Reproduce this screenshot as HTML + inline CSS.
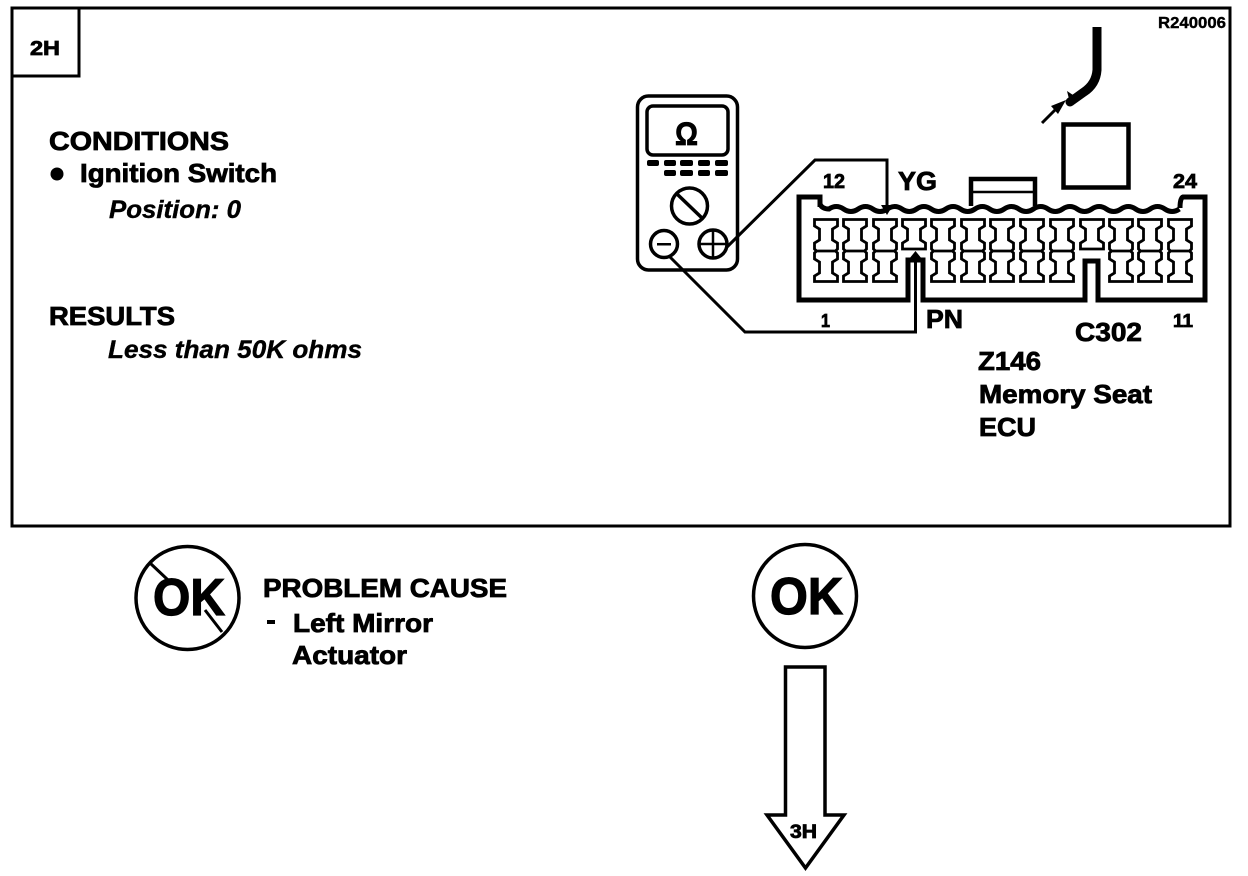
<!DOCTYPE html>
<html>
<head>
<meta charset="utf-8">
<style>
html,body{margin:0;padding:0;background:#fff;width:1248px;height:876px;overflow:hidden}
svg{display:block}
text{font-family:"Liberation Sans",sans-serif;font-weight:bold;fill:#000;stroke:#000;stroke-width:.8}
.i{font-style:italic;stroke-width:.4}
.s{stroke-width:.4}
</style>
</head>
<body>
<svg width="1248" height="876" viewBox="0 0 1248 876" xmlns="http://www.w3.org/2000/svg">
<defs>
<path id="t" d="M-11.500,1.500H11.500V8L6.500,11V22L11.500,25V31L9.500,33L11.500,35V41L6.500,44V55L11.500,58V63.500H-11.500V58L-6.500,55V44L-11.500,41V35L-9.500,33L-11.500,31V25L-6.500,22V11L-11.500,8ZM-10,33H10" fill="none" stroke="#000" stroke-width="2.800"/>
<path id="u" d="M-11.500,1.500H11.500V8L6.500,11V22L11.500,25V31H-11.500V25L-6.500,22V11L-11.500,8Z" fill="none" stroke="#000" stroke-width="2.800"/>
</defs>

<!-- outer frame -->
<rect x="12" y="8" width="1218" height="518" fill="none" stroke="#000" stroke-width="3"/>
<path d="M12,76H79V8" fill="none" stroke="#000" stroke-width="3"/>
<text x="30" y="55" font-size="20" textLength="30" lengthAdjust="spacingAndGlyphs">2H</text>
<text class="s" x="1158" y="28" font-size="16" textLength="68" lengthAdjust="spacingAndGlyphs">R240006</text>

<!-- left text -->
<text x="49" y="150" font-size="26" textLength="180" lengthAdjust="spacingAndGlyphs">CONDITIONS</text>
<circle cx="57" cy="174" r="6.500" fill="#000"/>
<text x="80" y="182" font-size="26" textLength="197" lengthAdjust="spacingAndGlyphs">Ignition Switch</text>
<text class="i" x="109" y="218" font-size="25" textLength="132" lengthAdjust="spacingAndGlyphs">Position: 0</text>
<text x="49" y="325" font-size="26" textLength="126" lengthAdjust="spacingAndGlyphs">RESULTS</text>
<text class="i" x="108" y="358" font-size="25" textLength="254" lengthAdjust="spacingAndGlyphs">Less than 50K ohms</text>

<!-- meter -->
<rect x="637.500" y="96" width="100" height="174" rx="11" fill="none" stroke="#000" stroke-width="3.500"/>
<rect x="647" y="106" width="81" height="49" rx="6" fill="none" stroke="#000" stroke-width="3.500"/>
<text x="675" y="145" font-size="32" textLength="23" lengthAdjust="spacingAndGlyphs">Ω</text>
<g fill="#000">
<rect x="647" y="160" width="12" height="6" rx="2"/><rect x="664" y="160" width="12" height="6" rx="2"/><rect x="680" y="160" width="13" height="6" rx="2"/><rect x="698" y="160" width="12" height="6" rx="2"/><rect x="715" y="160" width="13" height="6" rx="2"/>
<rect x="664" y="170" width="12" height="6" rx="2"/><rect x="680" y="170" width="13" height="6" rx="2"/><rect x="698" y="170" width="12" height="6" rx="2"/><rect x="715" y="170" width="13" height="6" rx="2"/>
</g>
<circle cx="689.500" cy="206" r="18" fill="none" stroke="#000" stroke-width="3.500"/>
<path d="M677,194L702,218" stroke="#000" stroke-width="3.500"/>
<circle cx="664" cy="244" r="13.500" fill="none" stroke="#000" stroke-width="3.500"/>
<rect x="657" y="243" width="14" height="2.500" fill="#000"/>
<circle cx="713" cy="244" r="14" fill="none" stroke="#000" stroke-width="3.500"/>
<path d="M699,244H727M713,230V258" stroke="#000" stroke-width="2.500"/>

<!-- wires -->
<path d="M727,247L815,160H887V207" fill="none" stroke="#000" stroke-width="3"/>
<path d="M881,205L893,205L887,215Z" fill="#000"/>
<path d="M670,257L745,332H915.500V258" fill="none" stroke="#000" stroke-width="3"/>
<path d="M909,259L922,259L915.500,251Z" fill="#000"/>

<!-- connector -->
<path d="M820,207V197H799V300H908V260H923V300H1085V261H1098V300H1205V197H1183Q1180,198 1180,208" fill="none" stroke="#000" stroke-width="5"/>
<path d="M820,204Q822,209 829,209q7.300,-5 14.600,0t14.600,0t14.600,0t14.600,0t14.600,0t14.600,0t14.600,0t14.600,0t14.600,0t14.600,0t14.600,0t14.600,0t14.600,0t14.600,0t14.600,0t14.600,0t14.600,0t14.600,0t14.600,0t14.600,0t14.600,0t14.600,0t14.600,0t14.600,0" fill="none" stroke="#000" stroke-width="5"/>
<g transform="translate(0,218)">
<use href="#t" x="826"/><use href="#t" x="855"/><use href="#t" x="885"/>
<use href="#u" x="914"/>
<use href="#t" x="943"/><use href="#t" x="973"/><use href="#t" x="1002"/><use href="#t" x="1032"/><use href="#t" x="1062"/>
<use href="#u" x="1092"/>
<use href="#t" x="1121"/><use href="#t" x="1150"/><use href="#t" x="1180"/>
</g>

<!-- bracket, square, harness -->
<path d="M971,206V179H1035V206" fill="none" stroke="#000" stroke-width="4.500"/>
<path d="M973,192H1033" stroke="#000" stroke-width="2.500"/>
<rect x="1063.500" y="124.500" width="65" height="63" fill="none" stroke="#000" stroke-width="4.500"/>
<path d="M1097,27V70Q1096,84 1084,92L1070,102" fill="none" stroke="#000" stroke-width="9"/>
<circle cx="1070" cy="102" r="4.500" fill="#000"/>
<path d="M1067,91L1076,97L1070,103Z" fill="#000"/>
<path d="M1042,123L1055,110" stroke="#000" stroke-width="3"/>
<path d="M1066,100L1051,106L1058,114Z" fill="#000"/>

<!-- connector labels -->
<text x="823" y="188" font-size="20" textLength="22" lengthAdjust="spacingAndGlyphs">12</text>
<text x="898" y="190" font-size="26" textLength="39" lengthAdjust="spacingAndGlyphs">YG</text>
<text x="1173" y="188" font-size="20" textLength="24" lengthAdjust="spacingAndGlyphs">24</text>
<text x="821" y="327" font-size="18" textLength="9" lengthAdjust="spacingAndGlyphs">1</text>
<text x="926" y="328" font-size="26" textLength="37" lengthAdjust="spacingAndGlyphs">PN</text>
<text x="1173" y="327" font-size="18" textLength="20" lengthAdjust="spacingAndGlyphs">11</text>
<text x="1075" y="341" font-size="26" textLength="67" lengthAdjust="spacingAndGlyphs">C302</text>
<text x="978" y="370" font-size="26" textLength="63" lengthAdjust="spacingAndGlyphs">Z146</text>
<text x="979" y="403" font-size="26" textLength="173" lengthAdjust="spacingAndGlyphs">Memory Seat</text>
<text x="979" y="436" font-size="26" textLength="57" lengthAdjust="spacingAndGlyphs">ECU</text>

<!-- not OK -->
<circle cx="187.500" cy="598" r="51.500" fill="none" stroke="#000" stroke-width="3.500"/>
<path d="M150,563L168,580M205,610L222,632" stroke="#000" stroke-width="3"/>
<text x="153" y="615" font-size="52" textLength="72" lengthAdjust="spacingAndGlyphs" style="stroke-width:1.200">OK</text>
<text x="263" y="597" font-size="26" textLength="244" lengthAdjust="spacingAndGlyphs">PROBLEM CAUSE</text>
<rect x="267" y="620" width="8" height="4" fill="#000"/>
<text x="293" y="632" font-size="26" textLength="140" lengthAdjust="spacingAndGlyphs">Left Mirror</text>
<text x="292" y="664" font-size="26" textLength="115" lengthAdjust="spacingAndGlyphs">Actuator</text>

<!-- OK -->
<circle cx="805" cy="596" r="51.500" fill="none" stroke="#000" stroke-width="3.500"/>
<text x="770" y="614" font-size="52" textLength="73" lengthAdjust="spacingAndGlyphs" style="stroke-width:1.200">OK</text>

<!-- arrow -->
<path d="M785.500,815V667H825V815H844L805.500,868L767,815Z" fill="none" stroke="#000" stroke-width="3.500"/>
<text x="790" y="838" font-size="19" textLength="27" lengthAdjust="spacingAndGlyphs">3H</text>
</svg>
</body>
</html>
